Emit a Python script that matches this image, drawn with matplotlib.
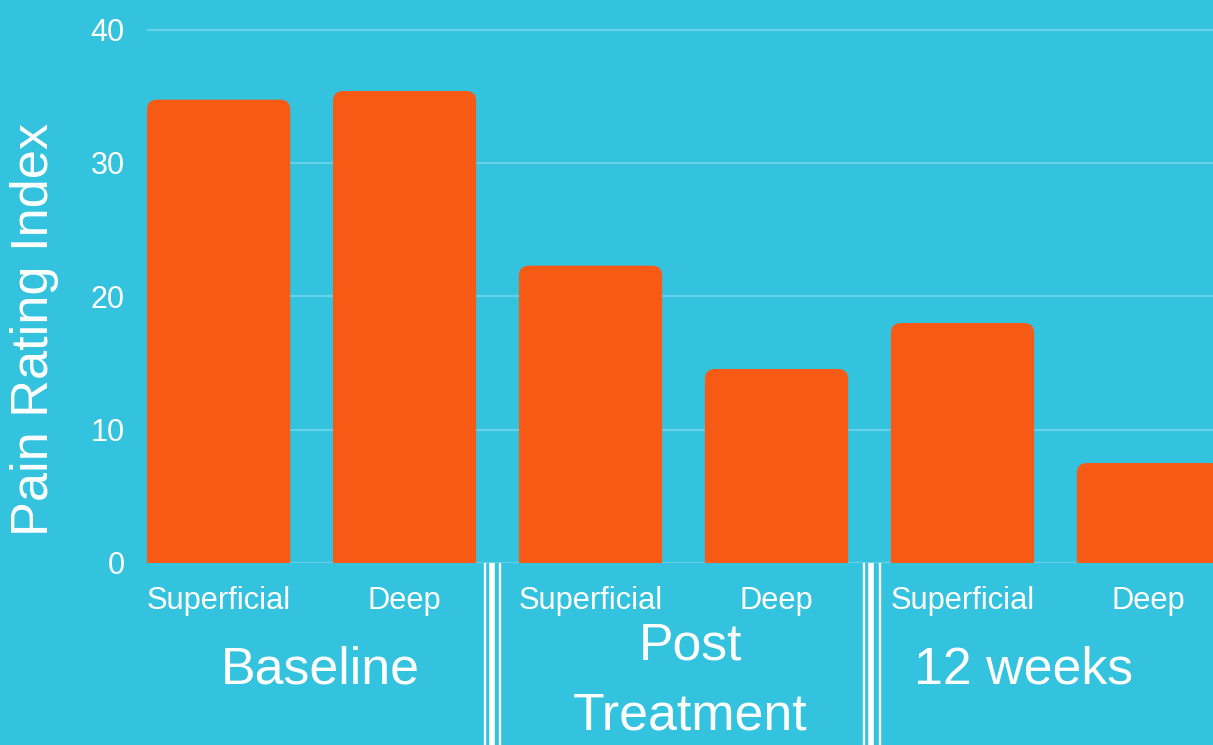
import matplotlib
matplotlib.use("Agg")
import matplotlib.pyplot as plt
from matplotlib.patches import FancyBboxPatch

# ---- data ----
categories = ["Superficial", "Deep", "Superficial", "Deep", "Superficial", "Deep"]
values = [34.75, 35.4, 22.3, 14.55, 18.0, 7.5]
groups = ["Baseline", "Post\nTreatment", "12 weeks"]
y_ticks = [0, 10, 20, 30, 40]
y_label = "Pain Rating Index"

# ---- style ----
BG = "#33C3DF"
BAR = "#F65A14"
GRID = "#66D2E8"
WHITE = "white"
FONT = ["Liberation Sans", "DejaVu Sans"]
plt.rcParams["font.family"] = FONT

W, H, DPI = 1213, 745, 100
fig = plt.figure(figsize=(W / DPI, H / DPI), dpi=DPI, facecolor=BG)

ax_left_px, ax_bottom_px, ax_top_px = 147, 563, 3
ax = fig.add_axes([ax_left_px / W, (H - ax_bottom_px) / H,
                   (W - ax_left_px) / W, (ax_bottom_px - ax_top_px) / H])
ax.set_facecolor(BG)
for s in ax.spines.values():
    s.set_visible(False)

x = list(range(len(values)))
bw = 0.77
ax.set_xlim(-bw / 2, 5.347)
ax.set_ylim(0, 42)

# gridlines
ax.set_yticks(y_ticks)
ax.set_yticklabels([str(t) for t in y_ticks], color=WHITE, fontsize=22)
ax.tick_params(axis="y", length=0, pad=16)
ax.set_xticks([])
ax.yaxis.grid(True, color=GRID, linewidth=1.5)
ax.set_axisbelow(True)

# bars (rounded top corners)
bars = ax.bar(x, values, width=bw, color=BAR, zorder=2)
px_per_x = (W - ax_left_px) / (5.347 + bw / 2)
px_per_y = (ax_bottom_px - ax_top_px) / 42
r_px = 10
rx = r_px / px_per_x
ry = r_px / px_per_y
for b in bars:
    b.set_visible(False)
    x0, w, h = b.get_x(), b.get_width(), b.get_height()
    p = FancyBboxPatch((x0, -2), w, h + 2,
                       boxstyle=f"round,pad=0,rounding_size={rx}",
                       mutation_aspect=ry / rx,
                       facecolor=BAR, edgecolor="none", zorder=2)
    ax.add_patch(p)

# category labels
axes_h_px = ax_bottom_px - ax_top_px
xtrans = ax.get_xaxis_transform()
for xi, lab in zip(x, categories):
    ax.text(xi, -46 / axes_h_px, lab, transform=xtrans, ha="center",
            va="baseline", color=WHITE, fontsize=22.2, clip_on=False)

# group labels
group_x = [0.546, 2.535, 4.328]
for gx, g in zip(group_x, groups):
    lines = g.split("\n")
    first = 683 - (len(lines) - 1) * 24
    for i, ln in enumerate(lines):
        base_px = first + i * 71
        ax.text(gx, -(base_px - ax_bottom_px) / axes_h_px, ln, transform=xtrans,
                ha="center", va="baseline", color=WHITE, fontsize=37.4, clip_on=False)

# separators (triple white lines below the axis)
sep_sets = [[1.433, 1.468, 1.513], [3.473, 3.508, 3.556]]
sep_w = [1.7, 4.0, 1.7]
for sset in sep_sets:
    for sx, lw in zip(sset, sep_w):
        ax.plot([sx, sx], [0, -(H - ax_bottom_px) / axes_h_px - 0.01], transform=xtrans,
                color=WHITE, linewidth=lw, clip_on=False, solid_capstyle="butt", zorder=3)

# y label
fig.text(48 / W, 1 - 329 / H, y_label, rotation=90, rotation_mode="anchor",
         ha="center", va="baseline", color=WHITE, fontsize=37.7)

fig.savefig("out.png", dpi=DPI, facecolor=BG)
